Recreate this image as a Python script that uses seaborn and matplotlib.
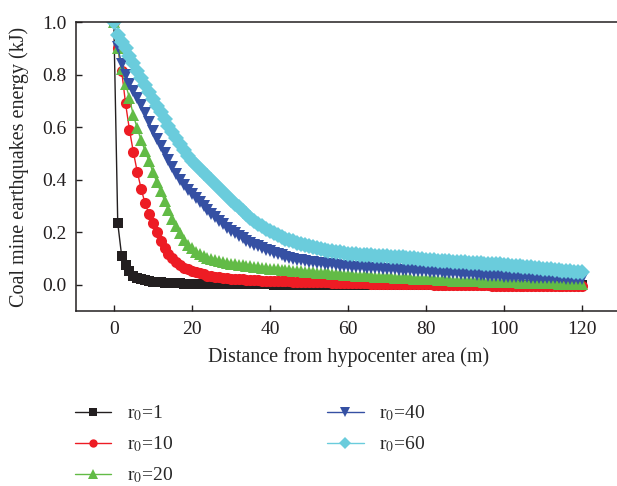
import matplotlib
matplotlib.use("Agg")
import matplotlib.pyplot as plt
import seaborn as sns

# distance from hypocenter (m), one reading per metre
distance = list(range(0, 121))

energy_r1 = [
    1.0, 0.235, 0.11, 0.075, 0.052, 0.035, 0.027, 0.021, 0.017, 0.014, 0.012,
    0.010, 0.009, 0.008, 0.007, 0.006, 0.005, 0.005, 0.004, 0.004, 0.003,
    0.003, 0.003, 0.002, 0.002, 0.002, 0.002, 0.002, 0.001, 0.001, 0.001,
    0.001, 0.001, 0.001, 0.001, 0.001, 0.001, 0.001, 0.001, 0.001, 0.001,
    0.0, 0.0, 0.0, 0.0, 0.0, 0.0, 0.0, 0.0, 0.0, 0.0,
    0.0, 0.0, 0.0, 0.0, 0.0, 0.0, 0.0, 0.0, 0.0, 0.0,
    0.0, 0.0, 0.0, 0.0, 0.0, 0.0, 0.0, 0.0, 0.0, 0.0,
    0.0, 0.0, 0.0, 0.0, 0.0, 0.0, 0.0, 0.0, 0.0, 0.0,
    0.0, 0.0, 0.0, 0.0, 0.0, 0.0, 0.0, 0.0, 0.0, 0.0,
    0.0, 0.0, 0.0, 0.0, 0.0, 0.0, 0.0, 0.0, 0.0, 0.0,
    0.0, 0.0, 0.0, 0.0, 0.0, 0.0, 0.0, 0.0, 0.0, 0.0,
    0.0, 0.0, 0.0, 0.0, 0.0, 0.0, 0.0, 0.0, 0.0, 0.0,
]

energy_r10 = [
    1.0, 0.90, 0.815, 0.69, 0.59, 0.505, 0.43, 0.365, 0.31, 0.27, 0.235,
    0.20, 0.168, 0.14, 0.118, 0.10, 0.087, 0.075, 0.065, 0.058, 0.052,
    0.047, 0.043, 0.039, 0.035, 0.032, 0.030, 0.028, 0.026, 0.024, 0.023,
    0.022, 0.021, 0.020, 0.019, 0.018, 0.018, 0.017, 0.016, 0.016, 0.015,
    0.015, 0.014, 0.014, 0.013, 0.013, 0.012, 0.012, 0.011, 0.011, 0.010,
    0.010, 0.010, 0.009, 0.009, 0.009, 0.008, 0.008, 0.007, 0.007, 0.006,
    0.006, 0.006, 0.005, 0.005, 0.005, 0.004, 0.004, 0.004, 0.003, 0.003,
    0.003, 0.003, 0.002, 0.002, 0.002, 0.002, 0.001, 0.001, 0.001, 0.001,
    0.001, 0.0, 0.0, 0.0, 0.0, -0.001, -0.001, -0.001, -0.001, -0.001,
    -0.002, -0.002, -0.002, -0.002, -0.002, -0.002, -0.003, -0.003, -0.003, -0.003,
    -0.003, -0.003, -0.003, -0.003, -0.003, -0.003, -0.004, -0.004, -0.004, -0.004,
    -0.004, -0.004, -0.004, -0.004, -0.004, -0.004, -0.004, -0.004, -0.004, -0.004,
]

energy_r20 = [
    1.0, 0.90, 0.82, 0.765, 0.71, 0.645, 0.595, 0.55, 0.51, 0.47, 0.43,
    0.39, 0.355, 0.32, 0.285, 0.252, 0.222, 0.195, 0.172, 0.153, 0.138,
    0.126, 0.117, 0.109, 0.103, 0.098, 0.093, 0.089, 0.085, 0.082, 0.080,
    0.078, 0.076, 0.074, 0.072, 0.070, 0.068, 0.066, 0.064, 0.062, 0.061,
    0.060, 0.058, 0.057, 0.056, 0.055, 0.053, 0.052, 0.051, 0.050, 0.048,
    0.047, 0.046, 0.045, 0.044, 0.043, 0.042, 0.040, 0.039, 0.038, 0.037,
    0.036, 0.035, 0.034, 0.034, 0.033, 0.032, 0.031, 0.030, 0.030, 0.029,
    0.028, 0.027, 0.026, 0.026, 0.025, 0.024, 0.023, 0.023, 0.022, 0.021,
    0.020, 0.020, 0.019, 0.018, 0.018, 0.017, 0.016, 0.016, 0.015, 0.015,
    0.014, 0.014, 0.013, 0.013, 0.012, 0.012, 0.011, 0.011, 0.010, 0.010,
    0.009, 0.009, 0.009, 0.008, 0.008, 0.007, 0.007, 0.007, 0.006, 0.006,
    0.006, 0.005, 0.005, 0.004, 0.004, 0.004, 0.003, 0.003, 0.003, 0.002,
]

energy_r40 = [
    1.0, 0.905, 0.84, 0.80, 0.765, 0.738, 0.712, 0.683, 0.653, 0.62, 0.585,
    0.556, 0.527, 0.50, 0.474, 0.448, 0.423, 0.40, 0.38, 0.362, 0.345,
    0.329, 0.313, 0.298, 0.284, 0.27, 0.256, 0.243, 0.23, 0.217, 0.205,
    0.195, 0.186, 0.177, 0.168, 0.16, 0.153, 0.146, 0.139, 0.133, 0.127,
    0.122, 0.117, 0.112, 0.107, 0.103, 0.099, 0.096, 0.093, 0.09, 0.088,
    0.086, 0.084, 0.082, 0.080, 0.078, 0.077, 0.075, 0.073, 0.072, 0.070,
    0.069, 0.068, 0.067, 0.066, 0.065, 0.064, 0.063, 0.062, 0.061, 0.060,
    0.059, 0.058, 0.057, 0.056, 0.055, 0.055, 0.054, 0.053, 0.052, 0.051,
    0.050, 0.049, 0.048, 0.047, 0.046, 0.045, 0.044, 0.043, 0.042, 0.041,
    0.040, 0.039, 0.038, 0.037, 0.036, 0.035, 0.034, 0.033, 0.032, 0.031,
    0.030, 0.030, 0.029, 0.029, 0.028, 0.028, 0.027, 0.027, 0.026, 0.026,
    0.025, 0.025, 0.025, 0.024, 0.024, 0.023, 0.023, 0.023, 0.022, 0.022,
]

energy_r60 = [
    1.0, 0.95, 0.925, 0.90, 0.872, 0.843, 0.815, 0.787, 0.76, 0.733, 0.707,
    0.681, 0.656, 0.631, 0.606, 0.582, 0.559, 0.536, 0.513, 0.491, 0.47,
    0.455, 0.44, 0.426, 0.412, 0.398, 0.382, 0.367, 0.352, 0.337, 0.323,
    0.309, 0.295, 0.281, 0.268, 0.255, 0.244, 0.233, 0.222, 0.212, 0.203,
    0.195, 0.188, 0.181, 0.175, 0.17, 0.165, 0.16, 0.155, 0.15, 0.146,
    0.142, 0.139, 0.136, 0.133, 0.130, 0.128, 0.126, 0.124, 0.121, 0.118,
    0.117, 0.116, 0.115, 0.114, 0.113, 0.112, 0.111, 0.110, 0.109, 0.108,
    0.107, 0.106, 0.105, 0.104, 0.103, 0.102, 0.100, 0.099, 0.097, 0.095,
    0.094, 0.093, 0.092, 0.091, 0.090, 0.089, 0.088, 0.087, 0.086, 0.085,
    0.084, 0.083, 0.082, 0.081, 0.080, 0.080, 0.079, 0.078, 0.077, 0.076,
    0.075, 0.073, 0.072, 0.070, 0.069, 0.067, 0.066, 0.064, 0.063, 0.061,
    0.060, 0.058, 0.057, 0.055, 0.054, 0.052, 0.051, 0.050, 0.048, 0.047,
]

labels = ["r$_0$=1", "r$_0$=10", "r$_0$=20", "r$_0$=40", "r$_0$=60"]
series = [energy_r1, energy_r10, energy_r20, energy_r40, energy_r60]
colors = ["#231f20", "#ed1c24", "#62bb46", "#3550a3", "#6accdc"]
markers = ["s", "o", "^", "v", "D"]
msizes = [7, 8, 9, 9, 8]

sns.set_style("ticks")
plt.rcParams["font.family"] = ["Liberation Serif", "DejaVu Serif"]
plt.rcParams["mathtext.fontset"] = "stix"

fig = plt.figure(figsize=(6.17, 4.86), dpi=100)
ax = fig.add_axes([76 / 617, 1 - 311 / 486, (621 - 76) / 617, (311 - 22) / 486])

for vals, lab, col, mk, ms in zip(series, labels, colors, markers, msizes):
    sns.lineplot(x=distance, y=vals, ax=ax, color=col, marker=mk,
                 markersize=ms, markeredgewidth=0, linewidth=1.0, label=lab)

ax.set_xlim(-9.7, 130)
ax.set_ylim(-0.1, 1.0)
ax.set_xticks([0, 20, 40, 60, 80, 100, 120])
ax.set_yticks([0.0, 0.2, 0.4, 0.6, 0.8, 1.0])
ax.set_yticklabels(["0.0", "0.2", "0.4", "0.6", "0.8", "1.0"])
ax.tick_params(direction="in", length=4, width=1, labelsize=14, colors="#231f20", pad=7)
for side in ["left", "bottom", "top"]:
    ax.spines[side].set_linewidth(1.1)
    ax.spines[side].set_color("#231f20")
ax.spines["right"].set_visible(False)

ax.set_xlabel("Distance from hypocenter area (m)", fontsize=14.5, labelpad=7)
ax.set_ylabel("Coal mine earthquakes energy (kJ)", fontsize=14.5, labelpad=9)

handles, labs = ax.get_legend_handles_labels()
ax.get_legend().remove()
fig.legend(handles, labs, loc="upper left", bbox_to_anchor=(57 / 617, 1 - 386 / 486),
           ncol=2, frameon=False, fontsize=14, handlelength=1.9,
           handletextpad=0.8, columnspacing=7.9, labelspacing=0.58,
           markerscale=0.75)

fig.savefig("out.png", dpi=100)
